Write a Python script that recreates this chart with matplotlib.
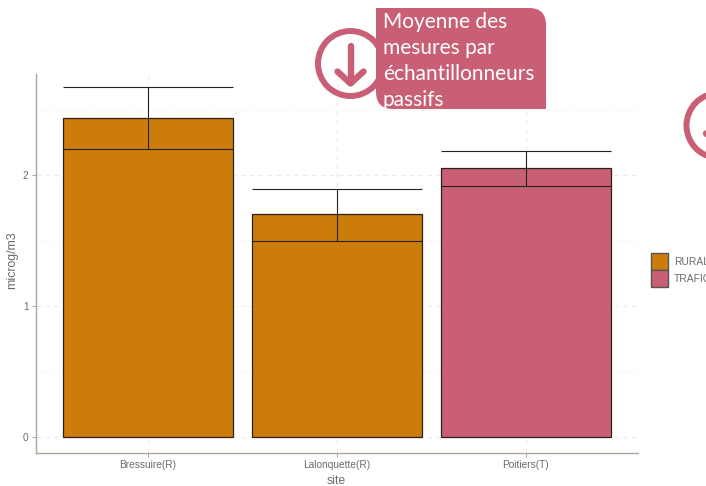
import matplotlib
matplotlib.use("Agg")
import matplotlib.pyplot as plt
from matplotlib.patches import Patch, Circle, PathPatch
from matplotlib.path import Path

#data
sites = ["Bressuire(R)", "Lalonquette(R)", "Poitiers(T)"]
types = ["RURAL", "RURAL", "TRAFIC"]
means = [2.44, 1.705, 2.055]
err_low = [2.20, 1.50, 1.92]
err_high = [2.68, 1.895, 2.19]
y_ticks = [0, 1, 2]
y_minor = [0.5, 1.5, 2.5]
note_lines = ["Moyenne des", "mesures par", "échantillonneurs", "passifs"]

colors = {"RURAL": "#CC7C0A", "TRAFIC": "#C85F75"}
pink = "#C85F75"
grey = "#6b6b6b"
W, H = 706, 486

plt.rcParams['font.family'] = ['Liberation Sans', 'DejaVu Sans']
fig = plt.figure(figsize=(W / 100, H / 100), dpi=100)
ax = fig.add_axes([35.5 / W, 1 - 453 / H, (638 - 36) / W, (453 - 74) / H])

xpos = list(range(1, len(sites) + 1))
ax.bar(xpos, means, width=0.9, color=[colors[t] for t in types],
       edgecolor="#2b2118", linewidth=0.9, zorder=3)
#error bars with the wide caps of the original
ax.vlines(xpos, err_low, err_high, color="#222222", linewidth=0.8, zorder=4)
for x, lo, hi in zip(xpos, err_low, err_high):
    ax.hlines([lo, hi], x - 0.45, x + 0.45, color="#222222", linewidth=0.8, zorder=4)

ax.set_xlim(0.404, 3.593)
ax.set_ylim(-0.122, 2.776)
ax.set_xticks(xpos)
ax.set_xticklabels(sites)
ax.set_yticks(y_ticks)
ax.set_yticks(y_minor, minor=True)
ax.grid(True, which="major", color="#efeae6", linestyle=(0, (4, 4)), linewidth=0.8, zorder=0)
ax.grid(True, which="minor", axis="y", color="#f2f0f0", linestyle=(0, (1, 2)), linewidth=0.8, zorder=0)
ax.tick_params(axis="both", which="major", labelsize=7.3, labelcolor=grey, color="#b0a59b", length=3, width=0.7, pad=2)
ax.tick_params(axis="y", which="minor", length=0)
ax.set_axisbelow(True)
for side in ["top", "right"]:
    ax.spines[side].set_visible(False)
for side in ["left", "bottom"]:
    ax.spines[side].set_color("#b0a59b")
    ax.spines[side].set_linewidth(1.0)
fig.text(12.5 / W, 1 - 260 / H, "microg/m3", rotation=90, ha="center", va="center", fontsize=8.8, color=grey)
fig.text(336 / W, 1 - 481 / H, "site", ha="center", va="center", fontsize=8.8, color=grey)

#legend, runs off the right edge like the original
handles = [Patch(facecolor=colors[k], edgecolor="#555555", linewidth=1, label=k) for k in colors]
leg = fig.legend(handles=handles, loc="upper left", bbox_to_anchor=(651 / W, 1 - 253 / H),
                 frameon=False, fontsize=7.4, labelcolor=grey, handlelength=1.65, handleheight=2.2,
                 labelspacing=0.0, handletextpad=0.6, borderpad=0, borderaxespad=0)

#overlay in pixel coordinates for the note and the icons
ov = fig.add_axes([0, 0, 1, 1], facecolor="none")
ov.set_xlim(0, W)
ov.set_ylim(H, 0)
ov.axis("off")

def arrow_icon(cx, cy):
    ov.add_patch(Circle((cx, cy), 32.5, facecolor="none", edgecolor=pink, linewidth=4.3, zorder=5))
    ov.plot([cx, cx], [cy - 17, cy + 20], color=pink, linewidth=4.6, solid_capstyle="round", zorder=5)
    ov.plot([cx - 13, cx, cx + 13], [cy + 8, cy + 20, cy + 8], color=pink, linewidth=4.6,
            solid_capstyle="round", solid_joinstyle="round", zorder=5)

arrow_icon(350.5, 63.5)
arrow_icon(719, 125.5)

#note box, only top right and bottom left corners are rounded
x0, x1, y0, y1, r = 376, 546, 8, 109, 17
verts = [(x0, y0), (x1 - r, y0), (x1, y0), (x1, y0 + r), (x1, y1), (x0 + r, y1), (x0, y1), (x0, y1 - r), (x0, y0)]
codes = [Path.MOVETO, Path.LINETO, Path.CURVE3, Path.CURVE3, Path.LINETO, Path.LINETO, Path.CURVE3, Path.CURVE3, Path.CLOSEPOLY]
ov.add_patch(PathPatch(Path(verts, codes), facecolor=pink, edgecolor="none", zorder=6))
for i, line in enumerate(note_lines):
    ov.text(383, 22.5 + i * 25.7, line, color="white", fontsize=15, family=["Lato", "DejaVu Sans"],
            ha="left", va="center", zorder=7)

fig.savefig("out.png", dpi=100)
